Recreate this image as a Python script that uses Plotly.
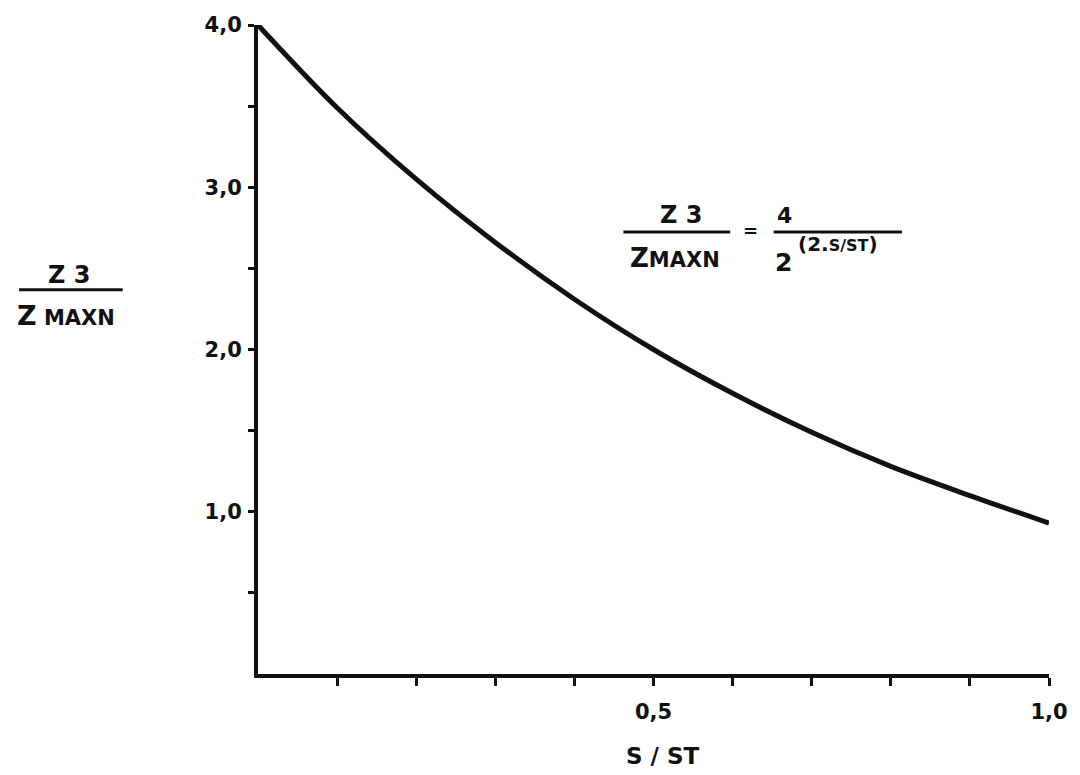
import plotly.graph_objects as go

# S/ST positions and the Z3/ZMAXN ratio
s_ratio = [0.0, 0.1, 0.2, 0.3, 0.4, 0.5, 0.6, 0.7, 0.8, 0.9, 1.0]
z_ratio = [4.0, 3.49, 3.05, 2.66, 2.31, 2.00, 1.73, 1.49, 1.28, 1.10, 0.93]

# axis ticks and labels
x_ticks = [0.1, 0.2, 0.3, 0.4, 0.5, 0.6, 0.7, 0.8, 0.9, 1.0]
x_labels = ["", "", "", "", "0,5", "", "", "", "", "1,0"]
y_ticks = [0.5, 1.0, 1.5, 2.0, 2.5, 3.0, 3.5, 4.0]
y_labels = ["", "1,0", "", "2,0", "", "3,0", "", "4,0"]

FONT = "DejaVu Sans"
INK = "#111111"

fig = go.Figure()
fig.add_trace(go.Scatter(
    x=s_ratio, y=z_ratio, mode="lines", line_shape="spline",
    line=dict(color=INK, width=5), hoverinfo="skip", cliponaxis=False,
))

axis_common = dict(
    showline=True, linecolor=INK, linewidth=4, showgrid=False, zeroline=False,
    ticks="outside", tickcolor=INK, tickwidth=3,
    tickfont=dict(family=FONT, size=21, color=INK, weight="bold"),
)

fig.update_xaxes(range=[0, 1.0], tickmode="array", tickvals=x_ticks, ticktext=x_labels,
                 ticklen=8, ticklabelstandoff=8, **axis_common)
fig.update_yaxes(range=[0, 4.0], tickmode="array", tickvals=y_ticks, ticktext=y_labels,
                 ticklen=6, ticklabelstandoff=2, **axis_common)

def txt(x, y, text, size, anchor="center"):
    fig.add_annotation(x=x, y=y, xref="paper", yref="paper", text=text, showarrow=False,
                       xanchor=anchor, yanchor="middle",
                       font=dict(family=FONT, size=size, color=INK, weight="bold"))

def bar(x0, x1, y):
    fig.add_shape(type="line", xref="paper", yref="paper", x0=x0, x1=x1, y0=y, y1=y,
                  line=dict(color=INK, width=3))

# vertical axis title as a fraction
txt(-0.239, 0.615, "Z 3", 24)
bar(-0.302, -0.171, 0.592)
txt(-0.243, 0.553, "Z<span style='font-size:21px'> MAXN</span>", 27)

# horizontal axis title
txt(0.512, -0.127, "S / ST", 23)

# formula of the curve
txt(0.535, 0.707, "Z 3", 24)
bar(0.462, 0.597, 0.681)
txt(0.527, 0.641, "Z<span style='font-size:21px'>MAXN</span>", 26)
txt(0.623, 0.684, "=", 18)
txt(0.666, 0.707, "4", 22)
bar(0.652, 0.814, 0.681)
txt(0.664, 0.634, "2", 25)
txt(0.680, 0.663, "(2.<span style='font-size:16px'>S/ST</span>)", 20, anchor="left")

fig.update_layout(
    width=1080, height=775,
    margin=dict(l=258, r=27, t=25, b=101),
    paper_bgcolor="white", plot_bgcolor="white",
    showlegend=False, hovermode=False,
)

fig.write_html("out.html")
